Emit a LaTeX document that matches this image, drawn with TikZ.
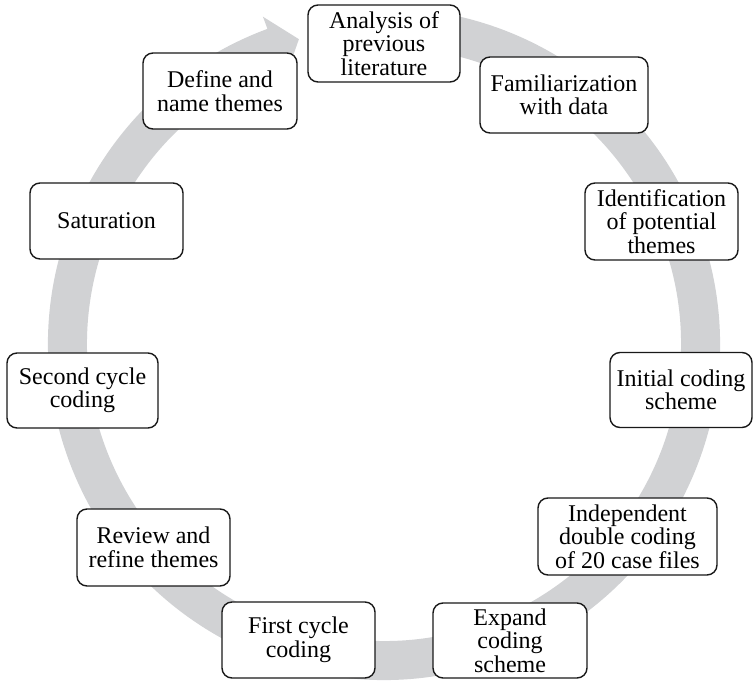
\documentclass[tikz,border=0pt]{standalone}
\usepackage{fontspec}
\setmainfont{Liberation Serif}
\definecolor{bandgray}{RGB}{209,210,212}
\definecolor{edgecol}{RGB}{25,25,25}
\begin{document}
\begin{tikzpicture}[x=1pt,y=1pt,
  stage/.style={draw=edgecol, line width=1.4pt, rounded corners=10pt, fill=white,
    align=center, inner sep=0pt, font=\rmfamily\fontsize{24}{23.5}\selectfont},
  cyclearrow/.style={fill=bandgray}
]
\useasboundingbox (0,0) rectangle (755,683);
% circular arrow band
\fill[cyclearrow, shift={(384,339)}]
  (110.3:336) arc[start angle=110.3, end angle=440, radius=336]
  -- (80:297) arc[start angle=440, end angle=110.3, radius=297]
  -- (110.3:284) -- (105.6:316.5) -- (110.3:349) -- cycle;
% stages
\node[stage, minimum width=152pt, minimum height=77pt] (a1) at (384,639.5) {Analysis of\\previous\\literature};
\node[stage, minimum width=168pt, minimum height=76pt] (a2) at (564,588) {Familiarization\\with data};
\node[stage, minimum width=153pt, minimum height=77pt] (a3) at (661.5,461.5) {Identification\\of potential\\themes};
\node[stage, minimum width=142pt, minimum height=75pt] (a4) at (681,293) {Initial coding\\scheme};
\node[stage, minimum width=179pt, minimum height=77pt] (a5) at (627.5,146.5) {Independent\\double coding\\of 20 case files};
\node[stage, minimum width=154pt, minimum height=75pt] (a6) at (510,42.5) {Expand\\coding\\scheme};
\node[stage, minimum width=153pt, minimum height=76pt] (a7) at (298.5,43) {First cycle\\coding};
\node[stage, minimum width=153pt, minimum height=77pt] (a8) at (153.5,135.5) {Review and\\refine themes};
\node[stage, minimum width=151pt, minimum height=75pt] (a9) at (82.5,292.5) {Second cycle\\coding};
\node[stage, minimum width=153pt, minimum height=76pt] (a10) at (106.5,462) {Saturation};
\node[stage, minimum width=154pt, minimum height=76pt] (a11) at (220,592) {Define and\\name themes};
\end{tikzpicture}
\end{document}
